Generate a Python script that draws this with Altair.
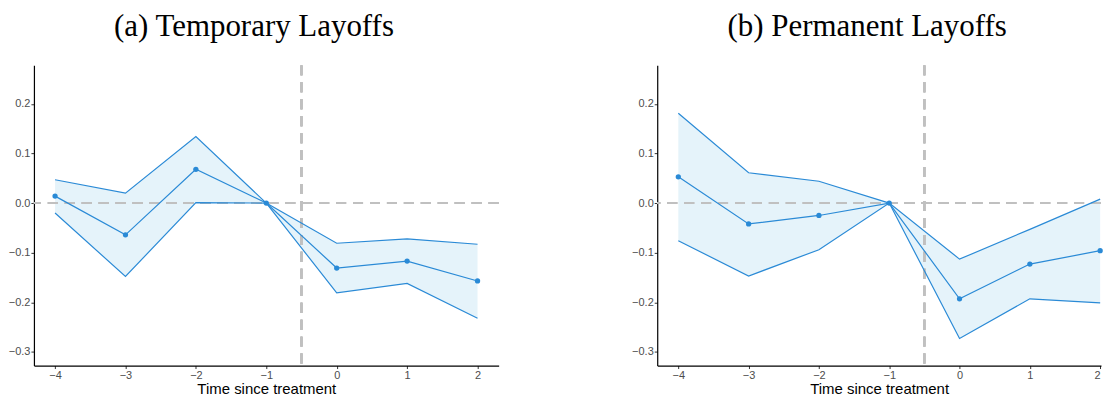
import altair as alt
import pandas as pd

t = [-4, -3, -2, -1, 0, 1, 2]

temp_est = [0.014, -0.064, 0.068, 0.0, -0.131, -0.117, -0.157]
temp_hi = [0.047, 0.020, 0.134, 0.0, -0.081, -0.072, -0.083]
temp_lo = [-0.020, -0.148, 0.001, 0.0, -0.181, -0.162, -0.232]

perm_est = [0.053, -0.042, -0.025, 0.0, -0.193, -0.123, -0.096]
perm_hi = [0.181, 0.061, 0.044, 0.0, -0.113, -0.053, 0.008]
perm_lo = [-0.076, -0.147, -0.094, 0.0, -0.273, -0.193, -0.201]

titles = ["(a) Temporary Layoffs", "(b) Permanent Layoffs"]
x_ticks = [-4, -3, -2, -1, 0, 1, 2]
y_ticks = [-0.3, -0.2, -0.1, 0.0, 0.1, 0.2]

BLUE = "#2a8ad6"
FILL = "#e5f3fa"
DASH = "#c0c0c0"

ys = alt.Scale(domain=[-0.3275, 0.2775], nice=False, zero=False)


def panel(est, lo, hi, title, xdom, width):
    xs = alt.Scale(domain=xdom, nice=False, zero=False)
    df = pd.DataFrame({"t": t, "est": est, "lo": lo, "hi": hi})
    base = alt.Chart(df)
    xenc = alt.X("t:Q", scale=xs,
                 axis=alt.Axis(values=x_ticks, format="d", title="Time since treatment"))
    area = base.mark_area(color=FILL, opacity=1).encode(
        x=xenc,
        y=alt.Y("lo:Q", scale=ys, axis=alt.Axis(values=y_ticks, format=".1f", title=None)),
        y2="hi:Q",
    )
    hline = alt.Chart(df).mark_rule(color=DASH, strokeDash=[10, 7], strokeWidth=2).encode(
        y=alt.datum(0, scale=ys)
    )
    vline = alt.Chart(df).mark_rule(color=DASH, strokeDash=[10, 7], strokeWidth=2).encode(
        x=alt.datum(-0.5, scale=xs)
    )
    l_hi = base.mark_line(color=BLUE, strokeWidth=1.2).encode(x="t:Q", y="hi:Q")
    l_lo = base.mark_line(color=BLUE, strokeWidth=1.2).encode(x="t:Q", y="lo:Q")
    l_est = base.mark_line(color=BLUE, strokeWidth=1.2).encode(x="t:Q", y="est:Q")
    pts = base.mark_circle(color=BLUE, size=28, opacity=1).encode(x="t:Q", y="est:Q")
    return alt.layer(area, hline, vline, l_hi, l_lo, l_est, pts).properties(
        width=width, height=301,
        title=alt.TitleParams(title, anchor="middle", frame="bounds", font="Liberation Serif",
                              fontSize=31, fontWeight="normal", color="black", offset=21),
    )


chart = alt.hconcat(
    panel(temp_est, temp_lo, temp_hi, titles[0], [-4.3, 2.3], 466),
    panel(perm_est, perm_lo, perm_hi, titles[1], [-4.3, 2.012], 445),
    spacing=132,
).properties(padding={"left": 0, "top": 3, "right": 0, "bottom": 0}).configure_view(
    stroke=None
).configure_axis(
    grid=False,
    domainColor="black",
    domainWidth=1.2,
    tickColor="#333333",
    tickSize=3,
    labelFont="Liberation Sans",
    labelFontSize=11,
    labelColor="#4d4d4d",
    labelPadding=1,
    titleFont="Liberation Sans",
    titleFontSize=15,
    titleFontWeight="normal",
    titleColor="black",
    titlePadding=1,
)

chart.save("out.html", embed_options={"renderer": "svg", "actions": False})
